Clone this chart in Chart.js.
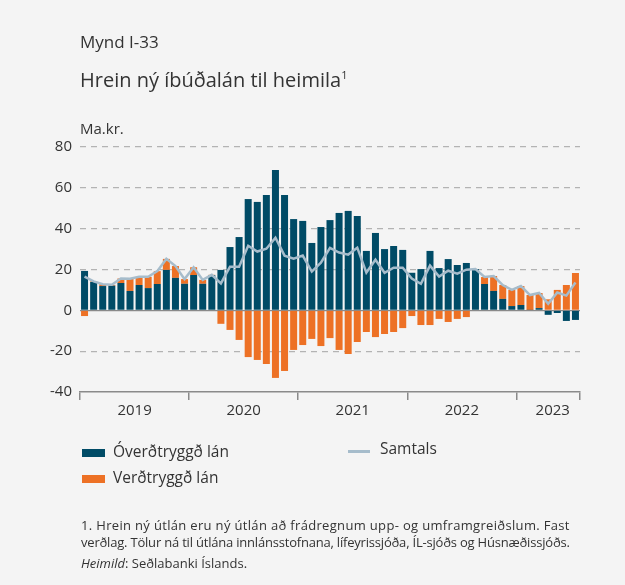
<!DOCTYPE html>
<html lang="is">
<head>
<meta charset="utf-8">
<title>Hrein ný íbúðalán til heimila</title>
<script src="https://cdn.jsdelivr.net/npm/chart.js@4.4.1/dist/chart.umd.min.js"></script>
<style>
  body { margin: 0; background: #f4f4f4; }
  #wrap { position: relative; width: 625px; height: 585px; font-family: "Open Sans", sans-serif; color: #333; }
  #wrap div.t { position: absolute; white-space: nowrap; }
  canvas { position: absolute; left: 0; top: 0; }
  .sw { position: absolute; width: 23px; height: 8px; }
</style>
</head>
<body>
<div id="wrap">
  <canvas id="chart" width="625" height="585"></canvas>
  <div class="t" style="left:80px; top:32px; font-size:17px; line-height:20px;">Mynd I-33</div>
  <div class="t" style="left:80px; top:63px; font-size:20px; line-height:24px;">Hrein ný íbúðalán til heimila<sup style="font-size:11px; vertical-align:8px;">1</sup></div>
  <div class="t" style="left:80px; top:119px; font-size:15px; line-height:18px;">Ma.kr.</div>

  <div class="sw" style="left:82px; top:449px; background:#004b66;"></div>
  <div class="t" style="left:113px; top:441px; font-size:15.5px; line-height:20px;">Óverðtryggð lán</div>
  <div class="sw" style="left:82px; top:475px; background:#ed7125;"></div>
  <div class="t" style="left:113px; top:467px; font-size:15.5px; line-height:20px;">Verðtryggð lán</div>
  <div style="position:absolute; left:348px; top:450px; width:22px; height:3px; background:#a6bccb;"></div>
  <div class="t" style="left:380px; top:438px; font-size:15.5px; line-height:20px;">Samtals</div>

  <div class="t" style="left:81px; top:517px; font-size:13px; line-height:17px; letter-spacing:0.33px;">1. Hrein ný útlán eru ný útlán að frádregnum upp- og umframgreiðslum. Fast</div>
  <div class="t" style="left:81px; top:534px; font-size:13px; line-height:17px; letter-spacing:-0.2px;">verðlag. Tölur ná til útlána innlánsstofnana, lífeyrissjóða, ÍL-sjóðs og Húsnæðissjóðs.</div>
  <div class="t" style="left:81px; top:555px; font-size:13px; line-height:17px;"><i>Heimild</i>: Seðlabanki Íslands.</div>
</div>
<script>
// Monthly values, Jan 2019 - Jul 2023 (Ma.kr.)
const overdtryggd = [
  19.3, 13.9, 11.9, 12.1, 13.4, 9.5, 12.4, 10.9, 12.9, 19.8, 15.9, 13.0,
  17.3, 13.0, 17.2, 19.8, 31.0, 35.9, 54.5, 53.1, 56.5, 68.7, 56.5, 44.7,
  43.8, 33.0, 40.8, 44.2, 47.7, 48.7, 46.2, 29.1, 37.9, 30.0, 31.5, 29.6,
  18.4, 20.2, 29.1, 20.7, 25.1, 22.2, 23.2, 20.2, 12.9, 9.5, 5.6, 2.1,
  2.6, 0.2, 1.1, -2.2, -1.3, -5.2, -4.7
];
const verdtryggd = [
  -2.8, 0.3, 0.9, 0.4, 2.2, 6.0, 4.0, 5.5, 6.3, 5.4, 5.8, 2.3,
  3.8, 1.9, 0.2, -6.6, -9.6, -14.5, -22.9, -24.3, -26.3, -33.1, -29.7, -19.4,
  -17.0, -14.0, -17.5, -13.6, -19.4, -21.4, -15.5, -10.6, -13.1, -11.6, -10.6, -8.7,
  -2.8, -7.2, -7.2, -4.2, -5.7, -4.2, -3.3, 0.0, 3.4, 7.3, 6.8, 7.9,
  9.3, 7.3, 7.4, 5.4, 10.0, 12.4, 18.3
];
const samtals = [
  16.5, 14.2, 12.8, 12.5, 15.6, 15.5, 16.4, 16.4, 19.2, 25.2, 21.7, 15.3,
  21.1, 14.9, 17.4, 13.2, 21.4, 21.4, 31.6, 28.8, 30.2, 35.6, 26.8, 25.3,
  26.8, 19.0, 23.3, 30.6, 28.3, 27.3, 30.7, 18.5, 24.8, 18.4, 20.9, 20.9,
  15.6, 13.0, 21.9, 16.5, 19.4, 18.0, 19.9, 20.2, 16.3, 16.8, 12.4, 10.0,
  11.9, 7.5, 8.5, 3.2, 8.7, 7.2, 13.6
];

// Categories: one per month
const years = [2019, 2020, 2021, 2022, 2023];
const months = [];
years.forEach(y => {
  for (let m = 1; m <= 12; m++) {
    if (months.length < overdtryggd.length) months.push(y + '-' + String(m).padStart(2, '0'));
  }
});

// Year labels and the month they sit on (shifted half a month left)
const yearTicks = ['2019', '2020', '2021', '2022', '2023'];
const yearTickIndex = [6, 18, 30, 42, 52];

const FONT = '"Open Sans", sans-serif';
const AXIS = '#8a8a8a';

new Chart(document.getElementById('chart'), {
  type: 'bar',
  data: {
    labels: months,
    datasets: [
      {
        type: 'line',
        label: 'Samtals',
        data: samtals,
        borderColor: '#a6bccb',
        borderWidth: 2.5,
        pointRadius: 0,
        tension: 0,
        stack: 'line',
        order: 0
      },
      {
        label: 'Óverðtryggð lán',
        data: overdtryggd,
        backgroundColor: '#004b66',
        stack: 'lan',
        order: 1,
        barPercentage: 0.77,
        categoryPercentage: 1
      },
      {
        label: 'Verðtryggð lán',
        data: verdtryggd,
        backgroundColor: '#ed7125',
        stack: 'lan',
        order: 1,
        barPercentage: 0.77,
        categoryPercentage: 1
      }
    ]
  },
  options: {
    responsive: false,
    animation: false,
    layout: { padding: { top: 147, right: 45, bottom: 163, left: 0 } },
    plugins: { legend: { display: false }, tooltip: { enabled: false } },
    scales: {
      x: {
        stacked: true,
        offset: true,
        grid: {
          offset: true,
          drawOnChartArea: false,
          drawTicks: true,
          tickLength: 8,
          lineWidth: 1.5,
          color: ctx => (ctx.type !== 'tick' || ctx.index % 12 === 0) ? AXIS : 'rgba(0,0,0,0)'
        },
        border: { display: true, color: AXIS, width: 1.5 },
        ticks: {
          autoSkip: false,
          maxRotation: 0,
          minRotation: 0,
          padding: 2,
          labelOffset: -4.5,
          color: '#333',
          font: { family: FONT, size: 15 },
          callback: (v, i) => {
            const k = yearTickIndex.indexOf(i);
            return k >= 0 ? yearTicks[k] : '';
          }
        },
        afterFit: s => { s.height = 30; }
      },
      y: {
        stacked: true,
        min: -40,
        max: 80,
        ticks: { stepSize: 20, padding: 8, color: '#333', font: { family: FONT, size: 15 } },
        grid: {
          drawTicks: false,
          lineWidth: 1.2,
          color: ctx => {
            const v = ctx.tick ? ctx.tick.value : null;
            if (v === 0) return AXIS;
            if (v === -40) return 'rgba(0,0,0,0)';
            return '#b3b3b3';
          }
        },
        border: {
          display: false,
          dash: ctx => (ctx.tick && ctx.tick.value === 0) ? [] : [6, 5]
        },
        afterFit: s => { s.width = 80; }
      }
    }
  }
});
</script>
</body>
</html>
